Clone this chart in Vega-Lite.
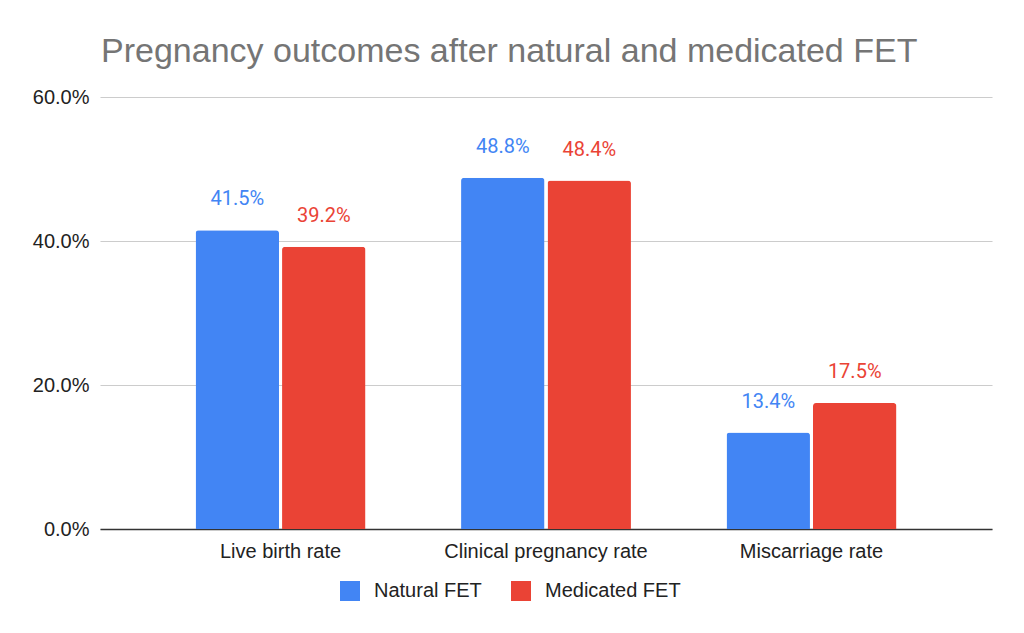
{
  "$schema": "https://vega.github.io/schema/vega-lite/v6.json",
  "width": 892,
  "height": 432,
  "autosize": {"type": "none"},
  "padding": {"left": 100, "top": 97, "right": 32, "bottom": 104},
  "background": "white",
  "title": {
    "text": "Pregnancy outcomes after natural and medicated FET",
    "anchor": "start",
    "frame": "group",
    "dx": 1,
    "offset": -9,
    "baseline": "alphabetic",
    "font": "Liberation Sans",
    "fontSize": 34,
    "fontWeight": "normal",
    "color": "#757575"
  },
  "config": {
    "view": {"stroke": null},
    "font": "Liberation Sans"
  },
  "data": {
    "values": [
      {"measure": "Live birth rate", "group": "Natural FET", "rate": 0.415},
      {"measure": "Live birth rate", "group": "Medicated FET", "rate": 0.392},
      {"measure": "Clinical pregnancy rate", "group": "Natural FET", "rate": 0.488},
      {"measure": "Clinical pregnancy rate", "group": "Medicated FET", "rate": 0.484},
      {"measure": "Miscarriage rate", "group": "Natural FET", "rate": 0.134},
      {"measure": "Miscarriage rate", "group": "Medicated FET", "rate": 0.175}
    ]
  },
  "encoding": {
    "x": {
      "field": "measure",
      "type": "nominal",
      "sort": ["Live birth rate", "Clinical pregnancy rate", "Miscarriage rate"],
      "scale": {"paddingInner": 0.36, "paddingOuter": 0.36},
      "axis": {
        "title": null,
        "labelAngle": 0,
        "labelLimit": 0,
        "labelFont": "Liberation Sans",
        "labelFontSize": 20,
        "labelColor": "#222222",
        "labelPadding": 12,
        "ticks": false,
        "domainColor": "#333333",
        "domainWidth": 1.5,
        "grid": false
      }
    },
    "xOffset": {
      "field": "group",
      "type": "nominal",
      "sort": ["Natural FET", "Medicated FET"],
      "scale": {"paddingInner": 0.035, "paddingOuter": 0}
    },
    "y": {
      "field": "rate",
      "type": "quantitative",
      "scale": {"domain": [0, 0.6], "nice": false},
      "axis": {
        "title": null,
        "values": [0, 0.2, 0.4, 0.6],
        "format": ".1%",
        "labelFont": "Liberation Sans",
        "labelFontSize": 20,
        "labelColor": "#222222",
        "labelPadding": 11,
        "ticks": false,
        "domain": false,
        "gridColor": "#cccccc",
        "gridWidth": 1.2
      }
    }
  },
  "layer": [
    {
      "mark": {"type": "bar", "cornerRadiusTopLeft": 3, "cornerRadiusTopRight": 3},
      "encoding": {
        "color": {
          "field": "group",
          "type": "nominal",
          "sort": ["Natural FET", "Medicated FET"],
          "scale": {"domain": ["Natural FET", "Medicated FET"], "range": ["#4285F4", "#EA4335"]},
          "legend": {
            "title": null,
            "orient": "none",
            "legendX": 240,
            "legendY": 484,
            "direction": "horizontal",
            "padding": 0,
            "symbolType": "square",
            "symbolSize": 400,
            "symbolStrokeWidth": 0,
            "symbolOpacity": 1,
            "labelFont": "Liberation Sans",
            "labelFontSize": 20,
            "labelColor": "#222222",
            "labelOffset": 14,
            "columnPadding": 29
          }
        }
      }
    },
    {
      "mark": {
        "type": "text",
        "font": "Roboto",
        "fontSize": 20,
        "baseline": "alphabetic",
        "dy": -25
      },
      "encoding": {
        "text": {"field": "rate", "type": "quantitative", "format": ".1%"},
        "color": {
          "field": "group",
          "type": "nominal",
          "sort": ["Natural FET", "Medicated FET"],
          "scale": {"domain": ["Natural FET", "Medicated FET"], "range": ["#4285F4", "#EA4335"]},
          "legend": null
        }
      }
    }
  ]
}
